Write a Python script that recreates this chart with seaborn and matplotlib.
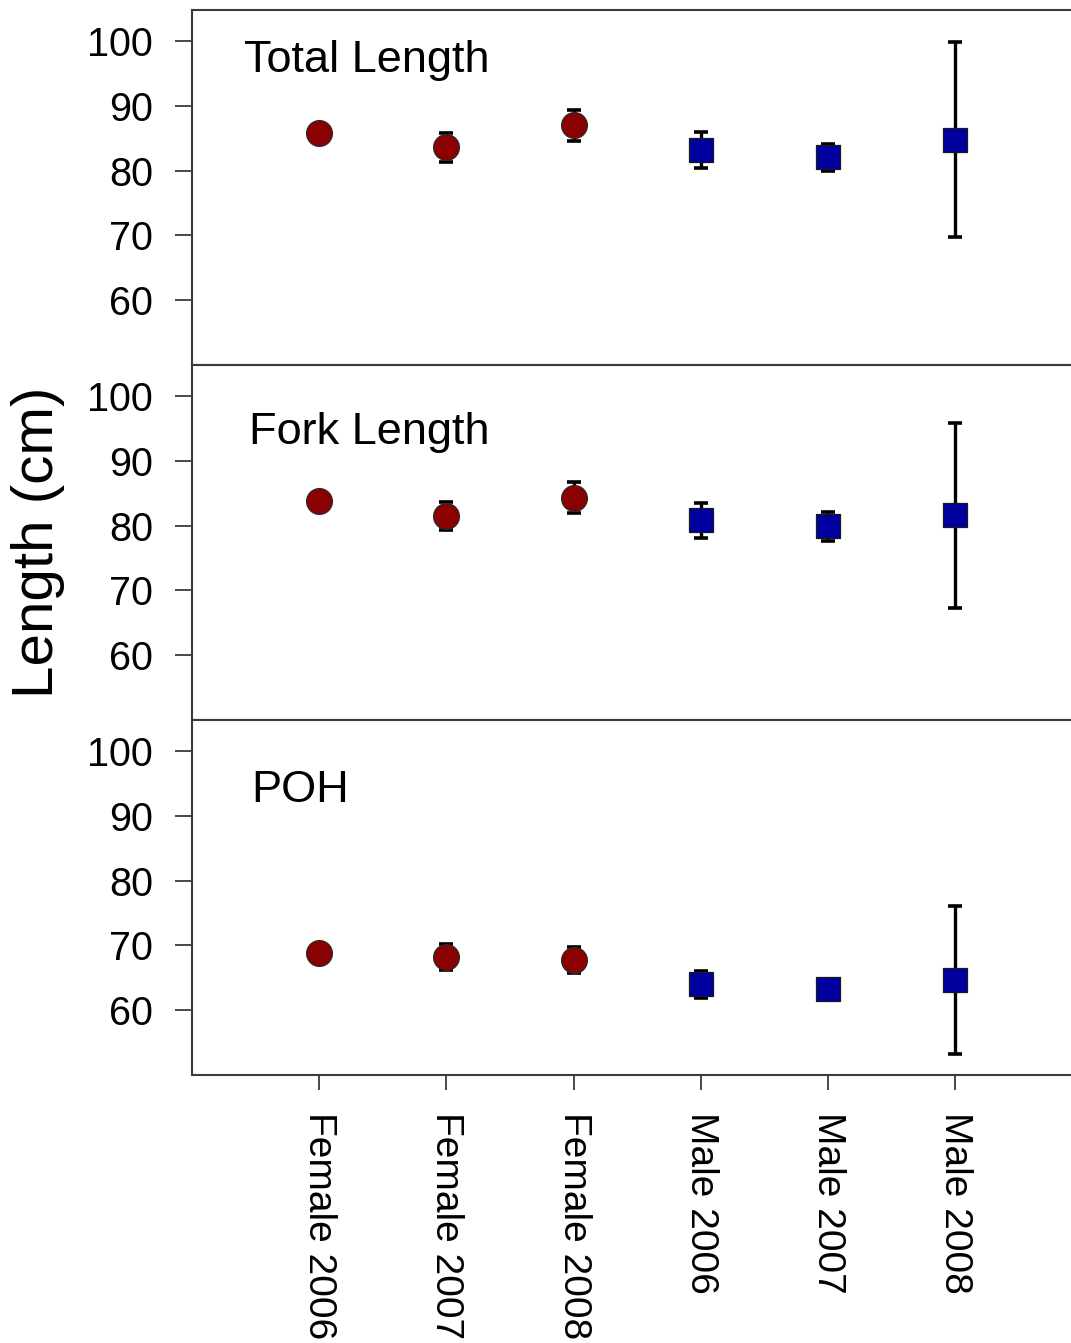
"""
Length by sex and year: Total Length, Fork Length and POH (mean +/- error)
"""

import numpy as np
import pandas as pd
import matplotlib
matplotlib.use("Agg")
import matplotlib.pyplot as plt
import seaborn as sns

# groups along the x axis
groups = ['Female 2006', 'Female 2007', 'Female 2008',
          'Male 2006', 'Male 2007', 'Male 2008']
sex = ['Female', 'Female', 'Female', 'Male', 'Male', 'Male']

# values (cm)
total_mean = [85.8, 83.6, 87.0, 83.2, 82.1, 84.8]
total_err = [0.6, 2.2, 2.4, 2.8, 2.1, 15.0]
fork_mean = [83.8, 81.5, 84.3, 80.8, 79.9, 81.6]
fork_err = [0.6, 2.1, 2.4, 2.7, 2.2, 14.3]
poh_mean = [68.9, 68.2, 67.8, 64.0, 63.3, 64.7]
poh_err = [0.6, 2.0, 2.0, 2.1, 0.9, 11.4]

panel_titles = ['Total Length', 'Fork Length', 'POH']
y_ticks = [60, 70, 80, 90, 100]

sns.set_style("ticks")
plt.rcParams['font.family'] = ['Liberation Sans', 'DejaVu Sans']
plt.rcParams['text.color'] = 'black'
plt.rcParams['xtick.labelcolor'] = 'black'
plt.rcParams['ytick.labelcolor'] = 'black'

fig = plt.figure(figsize=(10.71, 13.43), dpi=100)

# axes boxes in figure fraction (left, bottom, width, height)
boxes = [[0.1793, 0.7282, 0.8314, 0.2643],
         [0.1793, 0.4639, 0.8314, 0.2643],
         [0.1793, 0.1996, 0.8314, 0.2643]]
title_y = [0.857, 0.81, 0.80]
title_x = [0.058, 0.064, 0.067]

panels = [(total_mean, total_err), (fork_mean, fork_err), (poh_mean, poh_err)]
pos = np.arange(len(groups))

for k, (means, errs) in enumerate(panels):
    ax = fig.add_axes(boxes[k])
    df = pd.DataFrame({'group': groups, 'sex': sex, 'length': means, 'err': errs})

    # error bars behind the markers
    ax.errorbar(pos, df['length'], yerr=df['err'], fmt='none', ecolor='black',
                elinewidth=2.4, capsize=5, capthick=2.6, zorder=2)

    fem = df[df['sex'] == 'Female']
    mal = df[df['sex'] == 'Male']
    sns.scatterplot(data=fem, x='group', y='length', marker='o', s=345,
                    color='#8B0000', edgecolor='#2a2a2a', linewidth=0.9,
                    zorder=3, legend=False, ax=ax)
    sns.scatterplot(data=mal, x='group', y='length', marker='s', s=275,
                    color='#0000A0', edgecolor='#1a1a1a', linewidth=0.9,
                    zorder=3, legend=False, ax=ax)

    ax.set_xlim(-1, 6)
    ax.set_ylim(50, 104.8)
    ax.set_yticks(y_ticks)
    ax.set_xticks(pos)
    ax.set_xlabel('')
    ax.set_ylabel('')

    for s in ax.spines.values():
        s.set_visible(True)
        s.set_color('#3a3a3a')
        s.set_linewidth(1.5)

    ax.tick_params(axis='y', length=12, width=1.3, color='#3a3a3a',
                   labelsize=28.5, pad=16, labelcolor='black')
    ax.tick_params(axis='x', length=11, width=1.3, color='#3a3a3a',
                   labelsize=28, pad=16, labelcolor='black')

    if k < 2:
        ax.tick_params(axis='x', labelbottom=False)
    else:
        ax.set_xticklabels(groups, rotation=270, va='top', ha='center')

    ax.text(title_x[k], title_y[k], panel_titles[k], transform=ax.transAxes,
            fontsize=32.5, va='center', ha='left', color='black')

fig.text(0.0355, 0.596, 'Length (cm)', rotation=90, fontsize=42,
         va='center', ha='center', color='black')

plt.savefig('out.png', dpi=100)
plt.close()
